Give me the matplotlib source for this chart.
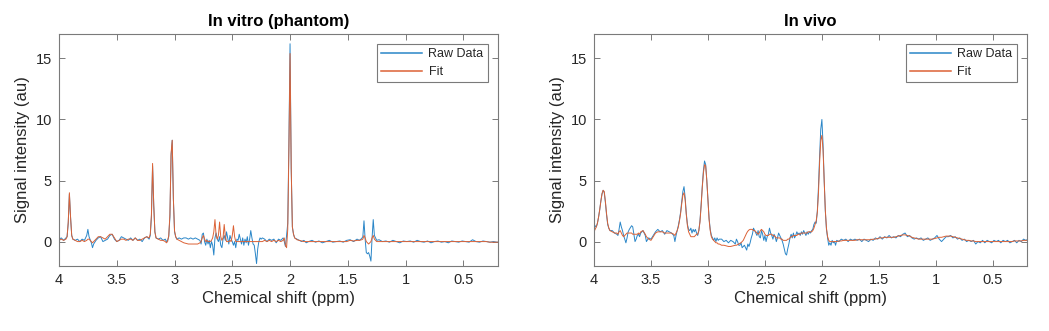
import matplotlib
matplotlib.use("Agg")
import matplotlib.pyplot as plt

plt.rcParams['font.family'] = ['Liberation Sans', 'DejaVu Sans']

# ---------------- In vitro (phantom) ----------------
ppm_vitro = [
    4.00, 3.98, 3.96, 3.94, 3.93, 3.92, 3.91, 3.90, 3.89, 3.88,
    3.86, 3.84, 3.82, 3.80, 3.78, 3.76, 3.75, 3.74, 3.72, 3.71,
    3.70, 3.68, 3.66, 3.64, 3.62, 3.60, 3.58, 3.56, 3.54, 3.52,
    3.50, 3.48, 3.46, 3.44, 3.42, 3.40, 3.38, 3.36, 3.34, 3.32,
    3.30, 3.28, 3.26, 3.24, 3.22, 3.21, 3.20, 3.19, 3.18, 3.17,
    3.16, 3.14, 3.12, 3.10, 3.08, 3.07, 3.06, 3.05, 3.04, 3.03,
    3.02, 3.01, 3.00, 2.99, 2.98, 2.96, 2.94, 2.92, 2.90, 2.88,
    2.86, 2.84, 2.82, 2.80, 2.78, 2.77, 2.76, 2.75, 2.74, 2.73,
    2.72, 2.71, 2.70, 2.69, 2.68, 2.67, 2.66, 2.65, 2.64, 2.63,
    2.62, 2.61, 2.60, 2.59, 2.58, 2.57, 2.56, 2.55, 2.54, 2.53,
    2.52, 2.51, 2.50, 2.49, 2.48, 2.47, 2.46, 2.45, 2.44, 2.43,
    2.42, 2.41, 2.40, 2.39, 2.38, 2.37, 2.36, 2.35, 2.34, 2.33,
    2.32, 2.31, 2.30, 2.29, 2.28, 2.27, 2.26, 2.25, 2.24, 2.22,
    2.20, 2.18, 2.16, 2.14, 2.12, 2.10, 2.08, 2.06, 2.05, 2.04,
    2.03, 2.02, 2.01, 2.00, 1.99, 1.98, 1.97, 1.96, 1.94, 1.92,
    1.90, 1.88, 1.86, 1.84, 1.81, 1.78, 1.75, 1.72, 1.69, 1.66,
    1.63, 1.60, 1.57, 1.54, 1.51, 1.48, 1.45, 1.42, 1.40, 1.38,
    1.37, 1.36, 1.35, 1.34, 1.33, 1.32, 1.31, 1.30, 1.29, 1.28,
    1.27, 1.26, 1.25, 1.23, 1.20, 1.17, 1.14, 1.11, 1.08, 1.05,
    1.02, 0.99, 0.96, 0.93, 0.90, 0.87, 0.84, 0.81, 0.78, 0.75,
    0.72, 0.69, 0.66, 0.63, 0.60, 0.57, 0.54, 0.51, 0.48, 0.45,
    0.42, 0.39, 0.36, 0.33, 0.30, 0.27, 0.24, 0.21, 0.20,
]
raw_vitro = [
    0.2, 0.3, 0.1, 0.3, 0.4, 1.5, 3.9, 2.0, 0.5, 0.2,
    0.1, 0.2, 0.0, 0.2, 0.1, 0.5, 1.0, 0.4, -0.1, -0.5,
    -0.2, 0.1, 0.3, 0.4, 0.0, 0.1, 0.2, 0.5, 0.6, 0.2,
    0.0, 0.1, 0.4, 0.3, 0.2, 0.1, 0.3, 0.1, 0.3, 0.1,
    0.2, 0.0, 0.3, 0.4, 0.2, 0.5, 2.0, 6.2, 3.0, 0.8,
    0.3, 0.2, 0.3, 0.1, 0.2, 0.0, 0.1, 0.4, 2.0, 7.0,
    8.3, 3.5, 0.8, 0.4, 0.2, 0.3, 0.2, 0.3, 0.3, 0.2,
    0.3, 0.2, 0.3, 0.2, 0.1, -0.2, 0.6, 0.7, 0.0, -0.3,
    0.2, -0.2, 0.1, -0.5, 0.0, -0.3, -1.1, 0.3, 0.7, 0.2,
    0.0, 0.4, -0.3, -0.5, 0.2, 0.5, 0.1, 0.8, 0.3, -0.2,
    0.5, 0.2, 0.0, -0.3, 0.0, -0.5, 0.2, 0.1, 0.6, 0.2,
    -0.2, 0.3, -0.3, 0.2, -0.1, 0.4, -0.3, 0.2, 0.9, 0.3,
    -0.2, -0.3, -1.0, -1.8, -0.6, 0.0, 0.3, 0.2, 0.3, 0.2,
    0.0, 0.2, 0.1, 0.2, -0.1, 0.2, 0.1, 0.3, 0.0, -0.4,
    0.5, 1.5, 8.0, 16.2, 6.0, 1.2, 0.6, 0.3, 0.2, 0.1,
    0.0, 0.1, -0.1, 0.0, 0.1, -0.05, 0.05, -0.1, 0.0, 0.1,
    -0.05, 0.0, 0.05, -0.05, 0.1, 0.15, 0.0, 0.2, 0.1, 0.25,
    0.4, 1.7, 0.2, -0.9, -1.0, -0.9, -1.2, -1.6, 0.3, 1.8,
    0.5, 0.3, 0.1, 0.15, 0.0, 0.05, -0.05, 0.1, 0.0, -0.1,
    0.05, 0.0, 0.05, -0.05, 0.1, 0.0, -0.05, 0.05, -0.1, 0.0,
    0.05, -0.05, 0.0, -0.1, 0.05, 0.0, -0.05, 0.05, 0.0, -0.05,
    0.15, 0.0, -0.05, 0.05, 0.0, -0.05, 0.0, -0.05, -0.05,
]
fit_vitro = [
    0.1, 0.2, 0.1, 0.2, 0.4, 1.6, 4.0, 2.0, 0.5, 0.2,
    0.1, 0.0, 0.0, 0.1, 0.0, 0.1, 0.2, 0.2, 0.0, -0.1,
    0.0, 0.2, 0.4, 0.4, 0.3, 0.2, 0.4, 0.6, 0.6, 0.3,
    0.0, 0.1, 0.2, 0.2, 0.1, 0.2, 0.2, 0.1, 0.3, 0.1,
    0.1, 0.2, 0.3, 0.4, 0.3, 0.6, 2.2, 6.4, 3.0, 0.8,
    0.3, 0.2, 0.1, 0.1, 0.0, -0.1, 0.0, 0.5, 2.2, 7.2,
    8.3, 3.5, 0.9, 0.4, 0.2, 0.1, 0.0, -0.1, -0.15, -0.2,
    -0.2, -0.2, -0.2, -0.2, -0.1, 0.0, 0.3, 0.5, 0.2, 0.0,
    0.1, 0.0, 0.0, 0.0, 0.1, 0.3, 0.8, 1.8, 0.5, 0.2,
    0.5, 1.6, 0.4, 0.1, 0.3, 1.4, 0.4, 0.0, 0.0, 0.0,
    0.1, 0.0, 0.5, 1.3, 0.4, 0.0, 0.0, 0.0, 0.0, 0.0,
    0.0, 0.0, 0.0, 0.0, 0.0, 0.0, 0.0, 0.0, 0.0, 0.0,
    0.0, 0.0, 0.0, 0.0, 0.0, 0.0, 0.0, 0.0, 0.0, 0.1,
    0.0, 0.1, 0.0, 0.1, 0.0, 0.1, 0.0, 0.1, 0.3, -0.3,
    -0.5, 1.0, 7.5, 15.4, 6.0, 1.2, 0.6, 0.3, 0.15, 0.1,
    0.05, 0.0, 0.0, 0.0, 0.0, 0.0, 0.0, 0.0, 0.0, 0.0,
    0.0, 0.0, 0.0, 0.0, 0.0, 0.1, 0.05, 0.1, 0.1, 0.15,
    0.2, 0.5, 0.3, 0.0, -0.1, -0.2, -0.1, 0.0, 0.3, 0.5,
    0.2, 0.1, 0.0, 0.0, 0.0, 0.0, 0.0, 0.0, 0.0, 0.0,
    0.0, 0.0, 0.0, 0.0, 0.0, 0.0, 0.0, 0.0, 0.0, 0.0,
    0.0, 0.0, 0.0, 0.0, 0.0, 0.0, 0.0, 0.0, 0.0, 0.0,
    0.0, 0.0, 0.0, 0.0, 0.0, -0.05, -0.05, -0.05, -0.05,
]

# ---------------- In vivo ----------------
ppm_vivo = [
    4.00, 3.99, 3.98, 3.97, 3.96, 3.95, 3.94, 3.93, 3.92, 3.91,
    3.90, 3.89, 3.88, 3.87, 3.86, 3.84, 3.82, 3.80, 3.79, 3.78,
    3.77, 3.76, 3.75, 3.74, 3.73, 3.72, 3.71, 3.70, 3.69, 3.67,
    3.66, 3.65, 3.64, 3.63, 3.62, 3.61, 3.60, 3.59, 3.57, 3.55,
    3.54, 3.52, 3.50, 3.48, 3.46, 3.44, 3.42, 3.40, 3.38, 3.36,
    3.34, 3.32, 3.30, 3.29, 3.28, 3.27, 3.26, 3.25, 3.24, 3.23,
    3.22, 3.21, 3.20, 3.19, 3.18, 3.17, 3.16, 3.15, 3.14, 3.13,
    3.12, 3.11, 3.10, 3.09, 3.08, 3.07, 3.06, 3.05, 3.04, 3.03,
    3.02, 3.01, 3.00, 2.99, 2.98, 2.97, 2.96, 2.95, 2.94, 2.93,
    2.92, 2.91, 2.90, 2.88, 2.86, 2.84, 2.82, 2.80, 2.78, 2.76,
    2.75, 2.74, 2.73, 2.72, 2.71, 2.70, 2.69, 2.68, 2.67, 2.66,
    2.65, 2.64, 2.63, 2.62, 2.61, 2.60, 2.59, 2.58, 2.57, 2.56,
    2.55, 2.54, 2.53, 2.52, 2.51, 2.50, 2.49, 2.48, 2.47, 2.46,
    2.45, 2.44, 2.43, 2.42, 2.41, 2.40, 2.39, 2.38, 2.37, 2.36,
    2.35, 2.34, 2.33, 2.32, 2.31, 2.30, 2.29, 2.28, 2.27, 2.26,
    2.25, 2.24, 2.23, 2.22, 2.21, 2.20, 2.19, 2.18, 2.17, 2.16,
    2.15, 2.14, 2.13, 2.12, 2.11, 2.10, 2.09, 2.08, 2.07, 2.06,
    2.05, 2.04, 2.03, 2.02, 2.01, 2.00, 1.99, 1.98, 1.97, 1.96,
    1.95, 1.94, 1.93, 1.92, 1.91, 1.90, 1.89, 1.88, 1.87, 1.85,
    1.83, 1.81, 1.79, 1.77, 1.75, 1.73, 1.71, 1.69, 1.67, 1.65,
    1.63, 1.61, 1.59, 1.57, 1.55, 1.53, 1.51, 1.49, 1.47, 1.45,
    1.43, 1.41, 1.39, 1.37, 1.35, 1.33, 1.31, 1.29, 1.27, 1.25,
    1.23, 1.21, 1.19, 1.17, 1.15, 1.13, 1.11, 1.09, 1.07, 1.05,
    1.03, 1.01, 0.99, 0.97, 0.95, 0.93, 0.91, 0.89, 0.87, 0.85,
    0.83, 0.81, 0.79, 0.77, 0.75, 0.73, 0.71, 0.69, 0.67, 0.65,
    0.63, 0.61, 0.59, 0.57, 0.55, 0.53, 0.51, 0.49, 0.47, 0.45,
    0.43, 0.41, 0.39, 0.37, 0.35, 0.33, 0.31, 0.29, 0.27, 0.25,
    0.23, 0.21, 0.20,
]
raw_vivo = [
    1.0, 1.3, 1.2, 1.5, 2.0, 2.6, 3.3, 3.9, 4.2, 4.0,
    3.2, 2.2, 1.4, 1.1, 0.9, 0.9, 0.7, 0.6, 0.5, 1.0,
    1.6, 1.2, 0.9, 0.5, 0.2, -0.1, 0.3, 0.8, 1.0, 1.3,
    1.2, 0.6, 0.0, 0.2, 0.5, 0.6, 0.4, 0.7, 0.9, 0.5,
    0.0, 0.3, 0.2, 0.5, 0.8, 1.0, 0.8, 0.9, 0.6, 0.9,
    0.8, 0.7, 0.5, 0.0, 0.5, 0.9, 1.3, 1.8, 2.4, 3.3,
    4.1, 4.5, 3.6, 2.3, 1.4, 1.0, 0.9, 1.1, 0.7, 1.0,
    0.8, 1.0, 0.7, 0.5, 0.9, 1.7, 3.0, 4.5, 5.8, 6.6,
    6.3, 5.0, 3.4, 1.9, 1.0, 0.5, 0.3, 0.1, 0.3, 0.0,
    0.3, 0.1, 0.2, 0.2, 0.0, 0.1, -0.1, 0.1, 0.0, -0.2,
    0.2, 0.0, -0.3, -0.3, -0.1, -0.5, -0.4, -0.3, -0.5, -0.7,
    -0.2, -0.4, -0.1, 0.3, 0.6, 1.1, 0.9, 0.7, 0.5, 0.9,
    0.4, 0.3, 0.9, 0.6, 0.1, 0.5, 0.0, 0.4, 0.6, 1.1,
    0.7, 0.5, 0.2, 0.6, 0.4, 0.0, 0.3, 0.7, 0.5, 0.3,
    0.1, -0.2, -0.6, -1.0, -1.1, -0.6, -0.2, 0.3, 0.6, 0.3,
    0.7, 0.3, 0.5, 0.8, 0.6, 0.7, 0.5, 0.8, 0.6, 0.9,
    0.7, 0.5, 0.8, 0.6, 0.8, 0.7, 0.9, 1.0, 1.4, 1.6,
    1.5, 2.5, 4.5, 7.0, 9.2, 10.0, 8.0, 5.0, 2.5, 1.0,
    0.3, -0.3, -0.1, -0.3, 0.1, -0.1, 0.0, -0.3, 0.1, 0.0,
    0.2, 0.1, 0.2, 0.0, 0.2, 0.1, 0.2, 0.1, 0.2, 0.0,
    0.2, 0.1, 0.0, 0.2, 0.1, 0.3, 0.2, 0.4, 0.2, 0.4,
    0.3, 0.5, 0.3, 0.4, 0.3, 0.5, 0.4, 0.6, 0.7, 0.4,
    0.5, 0.3, 0.2, 0.3, 0.2, 0.3, 0.1, 0.2, 0.3, 0.1,
    0.2, 0.3, 0.5, 0.2, 0.0, 0.2, 0.4, 0.4, 0.5, 0.3,
    0.4, 0.2, 0.3, 0.1, 0.2, 0.0, 0.1, 0.0, 0.1, -0.2,
    0.0, -0.1, 0.1, -0.1, 0.1, 0.0, -0.1, 0.1, 0.0, 0.1,
    -0.1, 0.1, 0.0, 0.1, -0.1, 0.0, 0.1, -0.1, 0.1, 0.0,
    0.2, 0.1, 0.15,
]
fit_vivo = [
    0.8, 1.0, 1.2, 1.5, 2.0, 2.6, 3.3, 3.9, 4.2, 4.1,
    3.3, 2.3, 1.5, 1.1, 0.9, 0.8, 0.7, 0.7, 0.6, 0.8,
    0.9, 0.7, 0.5, 0.4, 0.5, 0.6, 0.7, 0.7, 0.7, 0.7,
    0.6, 0.6, 0.6, 0.6, 0.6, 0.7, 0.6, 0.8, 0.9, 0.6,
    0.4, 0.2, 0.1, 0.4, 0.7, 0.8, 0.8, 0.8, 0.7, 0.7,
    0.7, 0.7, 0.6, 0.5, 0.7, 0.9, 1.2, 1.7, 2.3, 3.1,
    3.8, 4.0, 3.4, 2.2, 1.3, 0.8, 0.6, 0.4, 0.4, 0.4,
    0.4, 0.5, 0.6, 0.6, 0.9, 1.6, 2.9, 4.4, 5.6, 6.3,
    6.2, 5.0, 3.4, 1.8, 0.9, 0.4, 0.2, 0.1, 0.0, -0.1,
    -0.1, -0.2, -0.2, -0.3, -0.3, -0.35, -0.4, -0.4, -0.35, -0.3,
    -0.3, -0.25, -0.2, -0.15, -0.1, 0.0, 0.1, 0.3, 0.5, 0.7,
    0.85, 0.95, 1.0, 1.0, 1.0, 0.9, 0.9, 0.8, 0.7, 0.6,
    0.7, 0.9, 1.0, 0.9, 0.8, 0.6, 0.5, 0.5, 0.5, 0.6,
    0.6, 0.6, 0.5, 0.5, 0.4, 0.3, 0.3, 0.3, 0.3, 0.2,
    0.2, 0.1, 0.1, 0.1, 0.1, 0.2, 0.2, 0.3, 0.4, 0.4,
    0.5, 0.5, 0.5, 0.5, 0.6, 0.6, 0.6, 0.7, 0.7, 0.7,
    0.7, 0.7, 0.7, 0.8, 0.8, 0.8, 0.8, 0.9, 1.1, 1.4,
    1.7, 2.4, 4.0, 6.5, 8.3, 8.7, 7.5, 5.0, 2.6, 1.1,
    0.4, 0.1, 0.0, 0.0, 0.0, 0.0, 0.0, 0.0, 0.0, 0.05,
    0.05, 0.1, 0.1, 0.1, 0.1, 0.1, 0.1, 0.15, 0.15, 0.15,
    0.15, 0.15, 0.15, 0.15, 0.2, 0.2, 0.25, 0.3, 0.3, 0.35,
    0.35, 0.35, 0.35, 0.35, 0.4, 0.45, 0.5, 0.55, 0.55, 0.5,
    0.45, 0.35, 0.3, 0.25, 0.2, 0.2, 0.2, 0.2, 0.2, 0.2,
    0.2, 0.25, 0.3, 0.35, 0.35, 0.4, 0.45, 0.45, 0.45, 0.4,
    0.35, 0.3, 0.25, 0.2, 0.15, 0.1, 0.1, 0.05, 0.05, 0.0,
    0.0, 0.0, 0.0, 0.0, 0.0, 0.0, 0.0, 0.0, 0.0, 0.0,
    0.0, 0.0, 0.0, 0.0, 0.0, 0.0, 0.05, 0.05, 0.05, 0.05,
    0.1, 0.1, 0.1,
]

for a, b, c in [(ppm_vitro, raw_vitro, fit_vitro), (ppm_vivo, raw_vivo, fit_vivo)]:
    assert len(a) == len(b) == len(c), (len(a), len(b), len(c))

titles = ["In vitro (phantom)", "In vivo"]
xlabel = "Chemical shift (ppm)"
ylabel = "Signal intensity (au)"
legend_labels = ["Raw Data", "Fit"]
xticks = [4, 3.5, 3, 2.5, 2, 1.5, 1, 0.5]
xticklabels = ["4", "3.5", "3", "2.5", "2", "1.5", "1", "0.5"]
yticks = [0, 5, 10, 15]

blue = "#2a86c8"
orange = "#dc6236"
axcol = "#7a7a7a"
txtcol = "#262626"

W, H = 1049, 331
fig = plt.figure(figsize=(W / 100, H / 100), dpi=100)
boxes = [(59, 34, 498, 266), (594, 34, 1027, 266)]
data = [(ppm_vitro, raw_vitro, fit_vitro), (ppm_vivo, raw_vivo, fit_vivo)]

for (x0, y0, x1, y1), (ppm, raw, fit), title in zip(boxes, data, titles):
    ax = fig.add_axes([x0 / W, 1 - y1 / H, (x1 - x0) / W, (y1 - y0) / H])
    ax.plot(ppm, raw, color=blue, lw=0.7, label=legend_labels[0])
    ax.plot(ppm, fit, color=orange, lw=0.7, label=legend_labels[1])
    ax.set_xlim(4, 0.2)
    ax.set_ylim(-2, 17)
    ax.set_xticks(xticks)
    ax.set_xticklabels(xticklabels)
    ax.set_yticks(yticks)
    ax.tick_params(direction="in", top=True, right=True, length=4, width=0.7,
                   colors=axcol, labelcolor=txtcol, labelsize=10.5, pad=5)
    for s in ax.spines.values():
        s.set_color(axcol)
        s.set_linewidth(0.8)
    ax.set_title(title, fontsize=12, fontweight="bold", color="black", pad=6)
    ax.set_xlabel(xlabel, fontsize=12, color=txtcol, labelpad=3)
    ax.set_ylabel(ylabel, fontsize=12, color=txtcol, labelpad=4)
    leg = ax.legend(loc="upper right", fontsize=9, frameon=True, fancybox=False,
                    framealpha=1, edgecolor=axcol, handlelength=3.3,
                    borderaxespad=0.8, borderpad=0.35, labelspacing=0.45,
                    handletextpad=0.5)
    leg.get_frame().set_linewidth(0.8)
    for ln, c in zip(leg.get_lines(), [blue, orange]):
        ln.set_color(c)
        ln.set_linewidth(1.1)
    for t in leg.get_texts():
        t.set_color(txtcol)

fig.savefig("out.png", dpi=100)
